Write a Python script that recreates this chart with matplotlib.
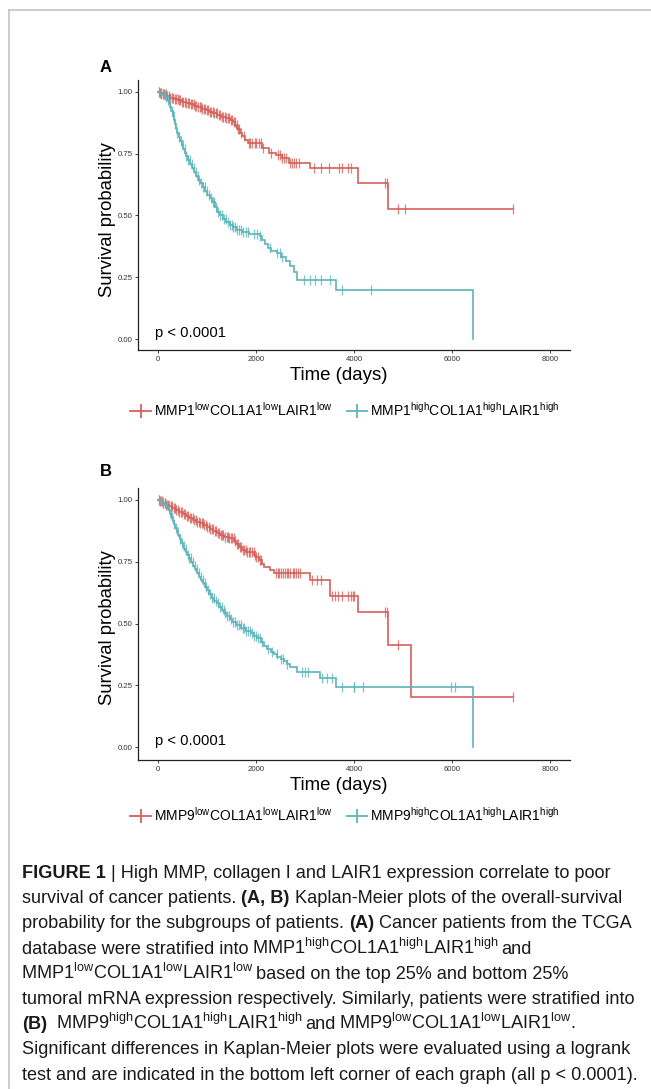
import numpy as np
import matplotlib
matplotlib.use('Agg')
import matplotlib.pyplot as plt
from matplotlib.lines import Line2D

plt.rcParams['font.family'] = ['Liberation Sans', 'DejaVu Sans']
plt.rcParams['mathtext.fontset'] = 'custom'
plt.rcParams['mathtext.rm'] = 'Liberation Sans'
plt.rcParams['mathtext.it'] = 'Liberation Sans:italic'
plt.rcParams['mathtext.bf'] = 'Liberation Sans:bold'

# ---------------- data ----------------
x_ticks = [0, 2000, 4000, 6000, 8000]
y_ticks = [0.0, 0.25, 0.5, 0.75, 1.0]
y_tick_labels = ['0.00', '0.25', '0.50', '0.75', '1.00']

# Panel A, low group (red)
a_low_t = [40, 100, 170, 250, 330, 410, 490, 570, 650, 730, 810, 890, 970, 1050, 1130,
           1210, 1290, 1380, 1460, 1540, 1580, 1620, 1670, 1720, 1770, 1830, 2130, 2260,
           2400, 2530, 2670, 3110, 4090, 4700]
a_low_s = [0.995, 0.99, 0.984, 0.977, 0.971, 0.966, 0.961, 0.956, 0.951, 0.945, 0.939,
           0.933, 0.927, 0.921, 0.914, 0.907, 0.90, 0.894, 0.887, 0.879, 0.866, 0.851,
           0.836, 0.82, 0.806, 0.793, 0.775, 0.755, 0.744, 0.732, 0.712, 0.693, 0.63, 0.525]
a_low_c = [15, 48, 70, 105, 131, 162, 190, 228, 251, 279, 312, 338, 372, 401, 425, 458, 490,
           512, 547, 575, 604, 632, 668, 697, 725, 758, 783, 815, 851, 877, 905, 938, 969,
           994, 1027, 1061, 1088, 1119, 1152, 1178, 1207, 1243, 1271, 1302, 1336, 1365, 1391,
           1428, 1455, 1487, 1512, 1548, 1571, 1603, 1628, 1660, 1700, 1745, 1850, 1880,
           1925, 1970, 2010, 2060, 2095, 2140, 2300, 2450, 2490, 2530, 2575, 2620, 2700,
           2735, 2770, 2820, 2880, 3180, 3330, 3480, 3700, 3760, 3880, 3940, 4630, 4670,
           4890, 5050, 7250]

# Panel A, high group (teal)
a_high_t = [50, 100, 150, 190, 220, 250, 275, 300, 320, 345, 370, 395, 420, 450, 480, 510,
            545, 580, 620, 660, 700, 740, 780, 820, 865, 910, 960, 1010, 1060, 1110, 1160,
            1210, 1260, 1320, 1390, 1460, 1530, 1590, 1720, 1850, 2080, 2130, 2190, 2240,
            2300, 2420, 2520, 2620, 2700, 2770, 2840, 3640, 6422]
a_high_s = [0.993, 0.986, 0.978, 0.968, 0.955, 0.94, 0.922, 0.903, 0.888, 0.87, 0.853,
            0.836, 0.818, 0.80, 0.785, 0.77, 0.755, 0.74, 0.725, 0.71, 0.693, 0.675, 0.66,
            0.645, 0.631, 0.614, 0.598, 0.584, 0.571, 0.553, 0.535, 0.515, 0.50, 0.486,
            0.475, 0.463, 0.452, 0.44, 0.432, 0.425, 0.415, 0.40, 0.385, 0.37, 0.357,
            0.347, 0.334, 0.315, 0.295, 0.272, 0.24, 0.199, 0.0]
a_high_c = [22, 58, 96, 133, 171, 208, 246, 282, 319, 357, 395, 430, 468, 507, 543, 581,
            620, 655, 692, 733, 770, 808, 846, 883, 921, 958, 1003, 1040, 1078, 1117, 1152,
            1190, 1231, 1268, 1306, 1345, 1380, 1420, 1462, 1500, 1537, 1575, 1615, 1655,
            1700, 1742, 1790, 1830, 1960, 2020, 2090, 2280, 2420, 2480, 2540, 2980, 3110,
            3210, 3320, 3520, 3750, 4350]

# Panel B, low group (red)
b_low_t = [40, 100, 160, 220, 290, 360, 430, 500, 570, 640, 710, 780, 850, 920, 990, 1060,
           1130, 1200, 1270, 1350, 1450, 1560, 1600, 1650, 1720, 1800, 1950, 2000, 2060,
           2120, 2170, 2290, 2360, 3110, 3520, 4090, 4700, 5162]
b_low_s = [0.994, 0.988, 0.981, 0.974, 0.967, 0.96, 0.953, 0.945, 0.937, 0.929, 0.921,
           0.913, 0.905, 0.897, 0.889, 0.882, 0.875, 0.868, 0.86, 0.852, 0.845, 0.836,
           0.822, 0.81, 0.797, 0.789, 0.778, 0.768, 0.757, 0.742, 0.73, 0.717, 0.703,
           0.678, 0.61, 0.547, 0.414, 0.205]
b_low_c = [18, 45, 77, 104, 138, 166, 197, 225, 259, 287, 318, 349, 377, 409, 436, 468, 497,
           528, 556, 589, 617, 648, 679, 707, 738, 766, 797, 828, 856, 888, 916, 947, 979,
           1006, 1038, 1067, 1096, 1127, 1158, 1187, 1219, 1246, 1278, 1307, 1336, 1369,
           1398, 1427, 1458, 1488, 1519, 1548, 1578, 1607, 1641, 1668, 1700, 1733, 1762,
           1795, 1826, 1858, 1886, 1918, 1949, 1980, 2010, 2043, 2072, 2105, 2400, 2440,
           2475, 2510, 2550, 2590, 2625, 2660, 2700, 2745, 2780, 2820, 2860, 2900, 3150,
           3250, 3320, 3560, 3620, 3680, 3750, 3880, 3940, 3970, 3990, 4630, 4670, 4890, 7250]

# Panel B, high group (teal)
b_high_t = [40, 100, 150, 190, 220, 250, 275, 300, 325, 350, 380, 410, 440, 470, 500, 530,
            565, 600, 640, 680, 720, 760, 800, 840, 880, 920, 960, 1000, 1050, 1100, 1150,
            1200, 1250, 1300, 1350, 1400, 1460, 1520, 1600, 1700, 1800, 1890, 1960, 2030,
            2100, 2160, 2230, 2300, 2370, 2430, 2500, 2570, 2640, 2700, 2840, 3316, 3640,
            6422]
b_high_s = [0.994, 0.986, 0.979, 0.97, 0.958, 0.944, 0.93, 0.917, 0.903, 0.888, 0.872,
            0.857, 0.842, 0.828, 0.815, 0.802, 0.788, 0.776, 0.764, 0.75, 0.734, 0.72,
            0.705, 0.69, 0.677, 0.663, 0.648, 0.636, 0.619, 0.604, 0.592, 0.582, 0.569,
            0.556, 0.542, 0.529, 0.517, 0.507, 0.496, 0.484, 0.472, 0.461, 0.45, 0.44,
            0.425, 0.408, 0.397, 0.386, 0.376, 0.366, 0.358, 0.35, 0.337, 0.326, 0.306,
            0.279, 0.245, 0.0]
b_high_c = [25, 63, 101, 139, 178, 216, 257, 293, 331, 372, 409, 447, 488, 524, 563, 603,
            641, 679, 718, 757, 795, 834, 873, 910, 951, 989, 1027, 1067, 1105, 1143, 1183,
            1222, 1259, 1298, 1338, 1376, 1415, 1455, 1492, 1532, 1570, 1610, 1648, 1688,
            1727, 1765, 1805, 1843, 1882, 1922, 1962, 2000, 2040, 2080, 2120, 2250, 2330,
            2420, 2500, 2560, 2640, 2930, 3000, 3060, 3350, 3450, 3550, 3750, 3990, 4010,
            4180, 5970, 6060]

legend_a = [r'MMP1$^{\mathregular{low}}$COL1A1$^{\mathregular{low}}$LAIR1$^{\mathregular{low}}$',
            r'MMP1$^{\mathregular{high}}$COL1A1$^{\mathregular{high}}$LAIR1$^{\mathregular{high}}$']
legend_b = [r'MMP9$^{\mathregular{low}}$COL1A1$^{\mathregular{low}}$LAIR1$^{\mathregular{low}}$',
            r'MMP9$^{\mathregular{high}}$COL1A1$^{\mathregular{high}}$LAIR1$^{\mathregular{high}}$']
pval_text = 'p < 0.0001'

HI = r'$^{\mathregular{high}}$'
LO = r'$^{\mathregular{low}}$'
caption_lines = [
    [('FIGURE 1', True), (' | High MMP, collagen I and LAIR1 expression correlate to poor', False)],
    [('survival of cancer patients. ', False), ('(A, B)', True), (' Kaplan-Meier plots of the overall-survival', False)],
    [('probability for the subgroups of patients. ', False), ('(A)', True), (' Cancer patients from the TCGA', False)],
    [('database were stratified into ', False), ('MMP1' + HI + 'COL1A1' + HI + 'LAIR1' + HI, False),
     (' and', False)],
    [('MMP1' + LO + 'COL1A1' + LO + 'LAIR1' + LO, False), (' based on the top 25% and bottom 25%', False)],
    [('tumoral mRNA expression respectively. Similarly, patients were stratified into', False)],
    [('(B)', True), (' ', False), ('MMP9' + HI + 'COL1A1' + HI + 'LAIR1' + HI, False), (' and ', False),
     ('MMP9' + LO + 'COL1A1' + LO + 'LAIR1' + LO + '.', False)],
    [('Significant differences in Kaplan-Meier plots were evaluated using a logrank', False)],
    [('test and are indicated in the bottom left corner of each graph (all p < 0.0001).', False)],
]

RED = '#D6605A'
TEAL = '#5DB4BA'

# ---------------- figure ----------------
W, H = 651, 1089
fig = plt.figure(figsize=(W / 100, H / 100), dpi=100)


def fx(px):
    return px / W


def fy(py):
    return 1 - py / H


# frame lines of the figure page
fig.add_artist(Line2D([fx(9), fx(651)], [fy(10), fy(10)], color='#c4c4c4', lw=1.2))
fig.add_artist(Line2D([fx(9), fx(9)], [fy(10), fy(1089)], color='#c4c4c4', lw=1.2))


def km(ax, times, surv, cens, color):
    t = np.concatenate([[0.0], np.asarray(times, float)])
    s = np.concatenate([[1.0], np.asarray(surv, float)])
    tend = max(t[-1], max(cens))
    tt = np.append(t, tend)
    ss = np.append(s, s[-1])
    ax.step(tt, ss, where='post', color=color, lw=1.2, solid_joinstyle='miter')
    c = np.asarray(cens, float)
    idx = np.searchsorted(t, c, side='right') - 1
    ax.plot(c, s[idx], ls='none', marker='|', ms=6.5, mew=0.9, color=color, alpha=0.8)


def panel(top, bottom, zero_y, one_y, series, label, label_y, ylab_y, xlab_y, legend_labels, legend_y):
    left, right = 138, 570
    ax = fig.add_axes([fx(left), fy(bottom), (right - left) / W, (bottom - top) / H])
    ppu = zero_y - one_y
    ax.set_ylim(-(bottom - zero_y) / ppu, 1 + (one_y - top) / ppu)
    ax.set_xlim((left - 158) / 98 * 2000, (right - 158) / 98 * 2000)
    for (t, s, c, col) in series:
        km(ax, t, s, c, col)
    for sp in ['top', 'right']:
        ax.spines[sp].set_visible(False)
    for sp in ['left', 'bottom']:
        ax.spines[sp].set_linewidth(0.9)
        ax.spines[sp].set_color('#222222')
    ax.set_xticks(x_ticks)
    ax.set_xticklabels([str(v) for v in x_ticks])
    ax.set_yticks(y_ticks)
    ax.set_yticklabels(y_tick_labels)
    ax.tick_params(length=2.5, width=0.6, labelsize=5.6, pad=1.5, colors='#222222',
                   labelcolor='#333333')
    ax.text(-60, 0.025, pval_text, fontsize=10.6, ha='left', va='center', color='black')
    fig.text(fx(105.5), fy(label_y), label, fontsize=12, fontweight='bold', ha='center', va='center')
    fig.text(fx(107), fy(ylab_y), 'Survival probability', fontsize=13.3, rotation=90,
             ha='center', va='center')
    fig.text(fx(339), fy(xlab_y), 'Time (days)', fontsize=13.4, ha='center', va='center')
    handles = [Line2D([], [], color=RED, lw=1.3, marker='|', ms=10, mew=1.3),
               Line2D([], [], color=TEAL, lw=1.3, marker='|', ms=10, mew=1.3)]
    fig.legend(handles, legend_labels, loc='center', bbox_to_anchor=(fx(345), fy(legend_y)),
               ncol=2, frameon=False, fontsize=10, handlelength=1.5, handletextpad=0.2,
               columnspacing=1.0, borderaxespad=0, borderpad=0)
    return ax


panel(80, 350, 339, 92,
      [(a_low_t, a_low_s, a_low_c, RED), (a_high_t, a_high_s, a_high_c, TEAL)],
      'A', 68, 219.5, 376, legend_a, 410)
panel(488, 760, 747.3, 500,
      [(b_low_t, b_low_s, b_low_c, RED), (b_high_t, b_high_s, b_high_c, TEAL)],
      'B', 472, 627.5, 785, legend_b, 815)

# ---------------- caption ----------------
renderer = fig.canvas.get_renderer()


def text_width(s, size, bold=False):
    t = fig.text(0, 0, s, fontsize=size, fontweight='bold' if bold else 'normal')
    w = t.get_window_extent(renderer).width
    t.remove()
    return w


def space_width(size, bold=False):
    return text_width('a a', size, bold) - text_width('aa', size, bold)


MATH_PAD_L = 1.0  # extra extent mathtext adds on the left (px)
MATH_PAD_R = 3.0  # extra extent mathtext adds on the right (px)


def layout_runs(runs, size, x0=0.0, ybase=None):
    x = x0
    for s, bold in runs:
        sp = space_width(size, bold)
        nl = len(s) - len(s.lstrip(' '))
        nt = len(s) - len(s.rstrip(' '))
        core = s.strip(' ')
        x += nl * sp
        if core:
            is_math = '$' in core
            pl = MATH_PAD_L if is_math else 0.0
            pr = MATH_PAD_R if is_math else 0.0
            if ybase is not None:
                fig.text(fx(x - pl), fy(ybase), core, fontsize=size,
                         fontweight='bold' if bold else 'normal', ha='left',
                         va='baseline', color='#1a1a1a')
            x += text_width(core, size, bold) - pl - pr
        x += nt * sp
    return x - x0


base_size = 10.0
w9 = layout_runs(caption_lines[8], base_size)
cap_size = base_size * 618 / w9
line_base0 = 878
line_step = 25.2
for i, runs in enumerate(caption_lines):
    layout_runs(runs, cap_size, 22, line_base0 + i * line_step)

fig.savefig('out.png', dpi=100)
